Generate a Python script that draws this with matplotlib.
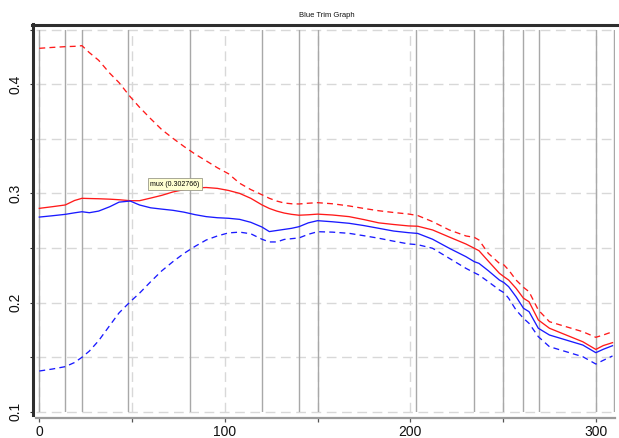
import matplotlib
matplotlib.use("Agg")
import matplotlib.pyplot as plt
from matplotlib.lines import Line2D
from matplotlib.ticker import FixedLocator

plt.rcParams['font.family'] = ['Liberation Sans', 'DejaVu Sans']

title = "Blue Trim Graph"
annotation_text = "mux (0.302766)"

x = [0, 7, 14, 19, 23, 27, 32, 38, 43, 49, 54, 60, 66, 72, 78, 84, 90, 96, 102, 108,
     114, 120, 124, 128, 132, 136, 140, 145, 150, 158, 167, 175, 183, 191, 199, 204,
     212, 221, 230, 234.5, 237, 242, 248, 250.5, 253, 257, 261, 264, 269, 275, 284,
     293, 300, 304, 309]

red_solid = [0.2863, 0.2878, 0.2894, 0.2935, 0.2955, 0.2953, 0.2951, 0.2947, 0.2942, 0.2933,
             0.2933, 0.2957, 0.2982, 0.3013, 0.3035, 0.3050, 0.3054, 0.3046, 0.3027, 0.3000,
             0.2955, 0.2895, 0.2862, 0.2838, 0.2820, 0.2808, 0.2800, 0.2804, 0.2810, 0.2802,
             0.2787, 0.2760, 0.2730, 0.2715, 0.2702, 0.2699, 0.2665, 0.2600, 0.2536, 0.2497,
             0.2475, 0.2380, 0.2268, 0.2236, 0.2206, 0.2130, 0.2039, 0.2007, 0.1840, 0.1764,
             0.1702, 0.1640, 0.1570, 0.1605, 0.1632]

blue_solid = [0.2783, 0.2795, 0.2808, 0.2822, 0.2832, 0.2823, 0.2838, 0.2878, 0.2920, 0.2930,
              0.2894, 0.2868, 0.2856, 0.2845, 0.2828, 0.2805, 0.2787, 0.2777, 0.2772, 0.2762,
              0.2735, 0.2692, 0.2650, 0.2660, 0.2670, 0.2680, 0.2695, 0.2730, 0.2750, 0.2740,
              0.2726, 0.2705, 0.2680, 0.2655, 0.2640, 0.2633, 0.2580, 0.2497, 0.2420, 0.2374,
              0.2359, 0.2292, 0.2206, 0.2182, 0.2145, 0.2053, 0.1947, 0.1916, 0.1764, 0.1702,
              0.1656, 0.1610, 0.1540, 0.1571, 0.1604]

red_dashed = [0.4330, 0.4338, 0.4345, 0.4348, 0.4354, 0.4290, 0.4220, 0.4101, 0.4015, 0.3886,
              0.3790, 0.3685, 0.3585, 0.3505, 0.3430, 0.3360, 0.3298, 0.3235, 0.3180, 0.3093,
              0.3035, 0.2988, 0.2955, 0.2930, 0.2912, 0.2905, 0.2903, 0.2910, 0.2915, 0.2905,
              0.2885, 0.2862, 0.2841, 0.2825, 0.2811, 0.2797, 0.2741, 0.2665, 0.2610, 0.2597,
              0.2573, 0.2451, 0.2359, 0.2344, 0.2298, 0.2206, 0.2139, 0.2099, 0.1931, 0.1824,
              0.1778, 0.1732, 0.1681, 0.1702, 0.1732]

blue_dashed = [0.1372, 0.1390, 0.1412, 0.1450, 0.1498, 0.1555, 0.1650, 0.1790, 0.1905, 0.2007,
               0.2085, 0.2190, 0.2290, 0.2374, 0.2450, 0.2515, 0.2573, 0.2610, 0.2638, 0.2645,
               0.2630, 0.2580, 0.2555, 0.2555, 0.2578, 0.2585, 0.2592, 0.2625, 0.2649, 0.2645,
               0.2634, 0.2612, 0.2589, 0.2562, 0.2537, 0.2530, 0.2497, 0.2405, 0.2313, 0.2273,
               0.2252, 0.2191, 0.2115, 0.2090, 0.2039, 0.1931, 0.1855, 0.1809, 0.1687, 0.1595,
               0.1549, 0.1503, 0.1436, 0.1470, 0.1510]

marker_lines = [0, 14, 23, 48, 81, 120, 140, 150, 203, 234.5, 250, 261, 269.5, 300, 309.7]

x_major = [0, 100, 200, 300]
x_minor = [50, 150, 250]
y_major = [0.1, 0.2, 0.3, 0.4]
y_minor = [0.15, 0.25, 0.35, 0.45]
x_labels = ["0", "100", "200", "300"]
y_labels = ["0.1", "0.2", "0.3", "0.4"]
annot_pos = (73, 0.3086)

W, H = 619, 438
fig = plt.figure(figsize=(W / 100, H / 100), dpi=100)
ax = fig.add_axes([36 / W, 26.4 / H, 579.3 / W, 381.85 / H])
ax.set_xlim(-1.78, 310.5)
ax.set_ylim(0.1, 0.45)

# dashed grid
grid_col = '#d8d8d8'
for gy in y_major + y_minor:
    ax.axhline(gy, color=grid_col, lw=1.0, ls=(0, (7, 4)), zorder=1, clip_on=False)
for gx in x_major + x_minor:
    ax.axvline(gx, color=grid_col, lw=1.0, ls=(0, (7, 4)), zorder=1)

for mx in marker_lines:
    ax.axvline(mx, color='#a8a8a8', lw=1.0, zorder=2)

ax.plot(x, red_dashed, color='#ff1a1a', lw=0.95, ls=(0, (4.5, 3.2)), zorder=3)
ax.plot(x, blue_dashed, color='#1a1aff', lw=0.95, ls=(0, (4.5, 3.2)), zorder=3)
ax.plot(x, red_solid, color='#ff1a1a', lw=0.95, zorder=4)
ax.plot(x, blue_solid, color='#1a1aff', lw=0.95, zorder=4)

ax.text(annot_pos[0], annot_pos[1], annotation_text, fontsize=5, ha='center', va='center',
        zorder=6,
        bbox=dict(boxstyle='square,pad=0.35', facecolor='#ffffd2', edgecolor='#9a9a8a', lw=0.6))

# spines
for s in ['top', 'right']:
    ax.spines[s].set_visible(False)
ax.spines['left'].set_position(('outward', 2.2))
ax.spines['left'].set_color('none')
ax.spines['bottom'].set_position(('outward', 4.6))
ax.spines['bottom'].set_color('#9a9a9a')
ax.spines['bottom'].set_linewidth(1.6)

ax.xaxis.set_major_locator(FixedLocator(x_major))
ax.xaxis.set_minor_locator(FixedLocator(x_minor))
ax.set_xticklabels(x_labels)
ax.yaxis.set_major_locator(FixedLocator(y_major))
ax.yaxis.set_minor_locator(FixedLocator(y_minor))
ax.set_yticklabels(y_labels, rotation=90, va='center')

ax.tick_params(axis='x', which='both', length=3, width=0.9, color='#555555', pad=2,
               labelsize=10, labelcolor='#111111')
ax.tick_params(axis='y', which='both', length=2.2, width=0.8, color='#333333', pad=5,
               labelsize=10, labelcolor='#111111')

# frame lines (top and left), in pixel coords
def px_line(x0, y0, x1, y1, **kw):
    fig.add_artist(Line2D([x0 / W, x1 / W], [1 - y0 / H, 1 - y1 / H],
                          transform=fig.transFigure, **kw))

px_line(31.5, 25, 619, 25, color='#2e2e2e', lw=2.2)
px_line(33, 24, 33, 415, color='#2e2e2e', lw=2.2)

fig.text(327 / W, 1 - 15.5 / H, title, fontsize=5.5, ha='center', va='center', color='#111111')

fig.savefig('out.png', dpi=100)
